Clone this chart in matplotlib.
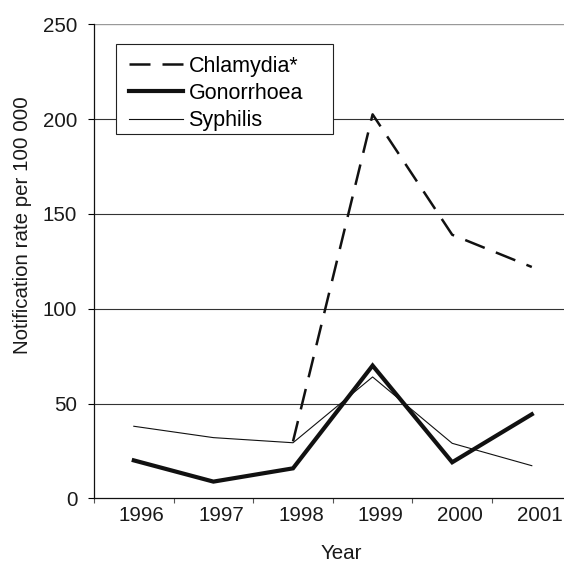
import matplotlib
matplotlib.use("Agg")
import matplotlib.pyplot as plt
import matplotlib.transforms as mtransforms
from matplotlib.patches import Rectangle
import numpy as np

plt.rcParams['font.family'] = ['Liberation Sans', 'DejaVu Sans']

years = ['1996', '1997', '1998', '1999', '2000', '2001']
chlamydia = [np.nan, np.nan, 30, 202.5, 139, 122]
gonorrhoea = [20, 8.8, 15.8, 70, 19, 44.3]
syphilis = [38, 32, 29.3, 64, 29, 17.2]
yticks = [0, 50, 100, 150, 200, 250]

FS = 14.8
TXT = '#1a1a1a'

fig = plt.figure(figsize=(5.64, 5.63), dpi=100)
L, R, T, B = 94, 571.6, 24.3, 498.3
ax = fig.add_axes([L/564, (563-B)/563, (R-L)/564, (B-T)/563])

def ax_xy(px, py):
    return (px - L) / (R - L), (B - py) / (B - T)

x = np.arange(len(years))
ax.plot(x, chlamydia, color='#111111', lw=1.8, dashes=(8.4, 4.8), label='Chlamydia*')
ax.plot(x, gonorrhoea, color='#111111', lw=3.0, label='Gonorrhoea', solid_joinstyle='miter')
ax.plot(x, syphilis, color='#111111', lw=0.8, label='Syphilis')

ax.set_xlim(-0.5, 5.5)
ax.set_ylim(0, 250)
ax.set_yticks(yticks)
ax.set_yticklabels([str(v) for v in yticks], fontsize=FS, color=TXT)
for v in yticks[1:]:
    ax.axhline(v, color='#999999' if v == 250 else '#333333', lw=1.0 if v == 250 else 0.8, zorder=0)

ax.set_xticks(np.arange(-0.5, 5.5, 1.0))
ax.set_xticklabels([])
ax.set_xticks(x, minor=True)
ax.set_xticklabels(years, minor=True, fontsize=FS, color=TXT)
ax.tick_params(axis='x', which='minor', length=0, pad=5.5)
ax.tick_params(axis='x', which='major', length=3.5, width=0.8, color='#555555', direction='out')
ax.tick_params(axis='y', length=4, width=0.8, direction='out', pad=8)
offset = mtransforms.ScaledTranslation(8/100, 0, fig.dpi_scale_trans)
for lbl in ax.xaxis.get_minorticklabels():
    lbl.set_transform(lbl.get_transform() + offset)

for s in ['top', 'right']:
    ax.spines[s].set_visible(False)
ax.spines['left'].set_color('#111111')
ax.spines['bottom'].set_color('#111111')
ax.spines['left'].set_linewidth(0.9)
ax.spines['bottom'].set_linewidth(0.9)

ax.set_xlabel('Year', fontsize=FS, color=TXT)
ax.set_ylabel('Notification rate per 100 000', fontsize=FS, color=TXT)
ax.xaxis.set_label_coords(*ax_xy(341.5, 544))
ax.yaxis.set_label_coords(*ax_xy(32, 225))

# legend frame
x0, y0 = ax_xy(116, 134)
x1, y1 = ax_xy(333, 44)
ax.add_patch(Rectangle((x0, y0), x1 - x0, y1 - y0, transform=ax.transAxes,
                       facecolor='white', edgecolor='#222222', lw=0.8, zorder=4))
leg = ax.legend(loc='upper left', bbox_to_anchor=ax_xy(129, 56),
                fontsize=15.5, frameon=False,
                handlelength=54/21.5, handletextpad=0.25, labelspacing=0.28,
                borderpad=0, borderaxespad=0)
leg.set_zorder(5)

fig.savefig('out.png', dpi=100)
